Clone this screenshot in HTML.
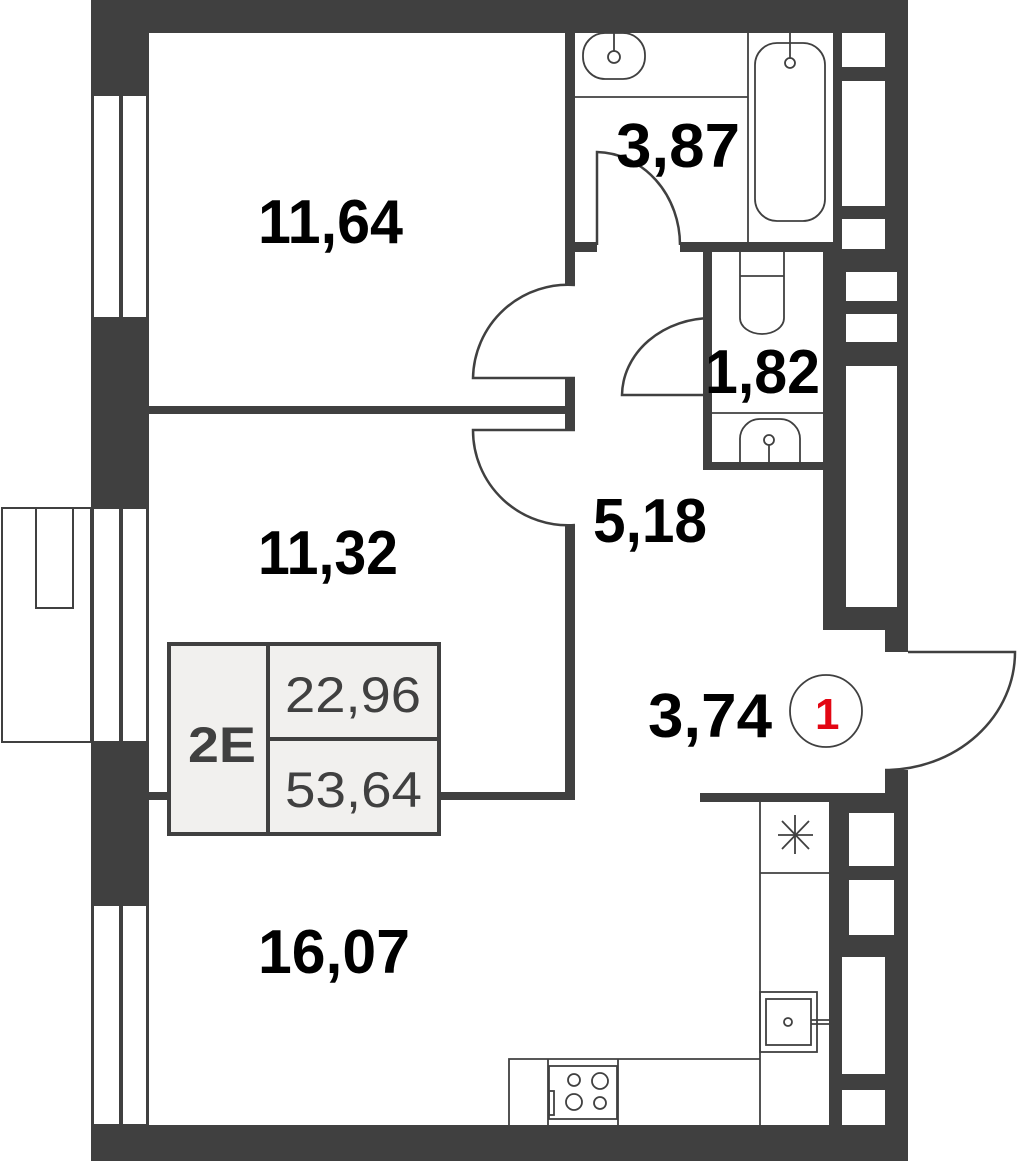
<!DOCTYPE html>
<html><head><meta charset="utf-8"><style>
html,body{margin:0;padding:0;background:#fff}
svg{display:block}
text{font-family:"Liberation Sans",sans-serif;font-weight:bold;fill:#000}
</style></head><body>
<svg width="1017" height="1161" viewBox="0 0 1017 1161" xmlns="http://www.w3.org/2000/svg">
<g fill="#404040">
<rect x="91" y="0" width="817" height="33"/>
<rect x="91" y="1125" width="817" height="36"/>
<rect x="91" y="0" width="58" height="1161"/>
<rect x="833" y="0" width="75" height="252"/>
<rect x="823" y="242" width="85" height="388"/>
<rect x="885" y="610" width="23" height="42"/>
<rect x="823" y="610" width="62" height="20"/>
<rect x="885" y="770" width="23" height="30"/>
<rect x="829" y="793" width="79" height="340"/>
<rect x="565" y="33" width="10" height="252"/>
<rect x="565" y="378" width="10" height="52"/>
<rect x="149" y="406" width="426" height="8"/>
<rect x="565" y="525" width="10" height="275"/>
<rect x="440" y="792" width="135" height="8"/>
<rect x="149" y="792" width="19" height="8"/>
<rect x="565" y="242" width="32" height="10"/>
<rect x="680" y="242" width="153" height="10"/>
<rect x="703" y="242" width="9" height="228"/>
<rect x="703" y="462" width="120" height="8"/>
<rect x="700" y="793" width="185" height="9"/>
</g>
<g fill="#fff" stroke="#404040" stroke-width="2">
<rect x="93" y="95" width="27" height="223"/><rect x="122" y="95" width="25" height="223"/>
<rect x="93" y="508" width="27" height="234"/><rect x="122" y="508" width="25" height="234"/>
<rect x="93" y="905" width="27" height="220"/><rect x="122" y="905" width="25" height="220"/>
<rect x="842" y="33" width="43" height="34" stroke="none"/>
<rect x="842" y="81" width="43" height="125" stroke="none"/>
<rect x="842" y="219" width="43" height="30" stroke="none"/>
<rect x="846" y="272" width="51" height="29" stroke="none"/>
<rect x="846" y="314" width="51" height="28" stroke="none"/>
<rect x="846" y="366" width="51" height="241" stroke="none"/>
<rect x="849" y="813" width="45" height="53" stroke="none"/>
<rect x="849" y="880" width="45" height="55" stroke="none"/>
<rect x="842" y="957" width="43" height="117" stroke="none"/>
<rect x="842" y="1090" width="43" height="35" stroke="none"/>
</g>
<g fill="none" stroke="#404040" stroke-width="2">
<rect x="2" y="508" width="89" height="234"/>
<rect x="36" y="508" width="37" height="100"/>
</g>
<g fill="none" stroke="#404040" stroke-width="2.5">
<path d="M575,285 A95,95 0 0 0 473,378 L575,378"/>
<path d="M575,430 L473,430 A95,95 0 0 0 575,525"/>
<path d="M597,245 L597,152 A85,93 0 0 1 680,245"/>
<path d="M712,395 L622,395 A90,78 0 0 1 712,318"/>
<path d="M908,652 L1015,652 A130,118 0 0 1 885,770"/>
</g>
<g fill="none" stroke="#404040" stroke-width="1.8">
<line x1="575" y1="97" x2="748" y2="97"/>
<line x1="748" y1="33" x2="748" y2="242"/>
<rect x="583" y="33" width="62" height="46" rx="22"/>
<circle cx="614" cy="57" r="6"/><line x1="614" y1="33" x2="614" y2="51"/>
<rect x="755" y="43" width="70" height="178" rx="22"/>
<circle cx="790" cy="63" r="5"/><line x1="790" y1="33" x2="790" y2="58"/>
<path d="M740,252 V318 A22,16 0 0 0 784,318 V252"/><line x1="740" y1="276" x2="784" y2="276"/>
<line x1="712" y1="413" x2="823" y2="413"/>
<path d="M740,462 V440 A20,20 0 0 1 760,419 H780 A20,20 0 0 1 800,440 V462"/>
<circle cx="769" cy="440" r="5"/><line x1="769" y1="445" x2="769" y2="462"/>
<line x1="760" y1="802" x2="760" y2="1125"/>
<line x1="760" y1="873" x2="829" y2="873"/>
<polyline points="760,1059 509,1059 509,1125"/>
<line x1="548" y1="1059" x2="548" y2="1125"/>
<line x1="618" y1="1059" x2="618" y2="1125"/>
<rect x="549" y="1066" width="68" height="53"/>
<rect x="549" y="1091" width="5" height="24"/>
<circle cx="574" cy="1080" r="6"/><circle cx="600" cy="1081" r="8"/>
<circle cx="574" cy="1102" r="8"/><circle cx="600" cy="1103" r="6"/>
<rect x="760" y="992" width="57" height="60"/>
<rect x="766" y="999" width="45" height="46"/>
<circle cx="788" cy="1022" r="4"/>
<line x1="811" y1="1020" x2="829" y2="1020"/><line x1="811" y1="1024" x2="829" y2="1024"/>
<line x1="795" y1="815" x2="795" y2="854"/><line x1="778" y1="835" x2="813" y2="835"/>
<line x1="782" y1="821" x2="809" y2="849"/><line x1="809" y1="821" x2="782" y2="849"/>
<circle cx="826" cy="711" r="36"/>
</g>
<rect x="169" y="644" width="270" height="190" fill="#f1f0ee" stroke="#404040" stroke-width="4"/>
<line x1="268" y1="644" x2="268" y2="834" stroke="#404040" stroke-width="4"/>
<line x1="268" y1="739" x2="439" y2="739" stroke="#404040" stroke-width="4"/>
<text x="188" y="762" font-size="50" textLength="68" lengthAdjust="spacingAndGlyphs" style="fill:#404040">2E</text>
<text x="285" y="712" font-size="50" textLength="136" lengthAdjust="spacingAndGlyphs" style="fill:#404040;font-weight:normal">22,96</text>
<text x="285" y="807" font-size="50" textLength="137" lengthAdjust="spacingAndGlyphs" style="fill:#404040;font-weight:normal">53,64</text>
<g font-size="62">
<text x="258" y="243" textLength="145" lengthAdjust="spacingAndGlyphs">11,64</text>
<text x="616" y="167" textLength="124" lengthAdjust="spacingAndGlyphs">3,87</text>
<text x="705" y="393" textLength="115" lengthAdjust="spacingAndGlyphs">1,82</text>
<text x="258" y="574" textLength="140" lengthAdjust="spacingAndGlyphs">11,32</text>
<text x="593" y="542" textLength="114" lengthAdjust="spacingAndGlyphs">5,18</text>
<text x="648" y="737" textLength="124" lengthAdjust="spacingAndGlyphs">3,74</text>
<text x="258" y="973" textLength="152" lengthAdjust="spacingAndGlyphs">16,07</text>
</g>
<text x="815" y="729" font-size="44" style="fill:#e30613">1</text>
</svg>
</body></html>
